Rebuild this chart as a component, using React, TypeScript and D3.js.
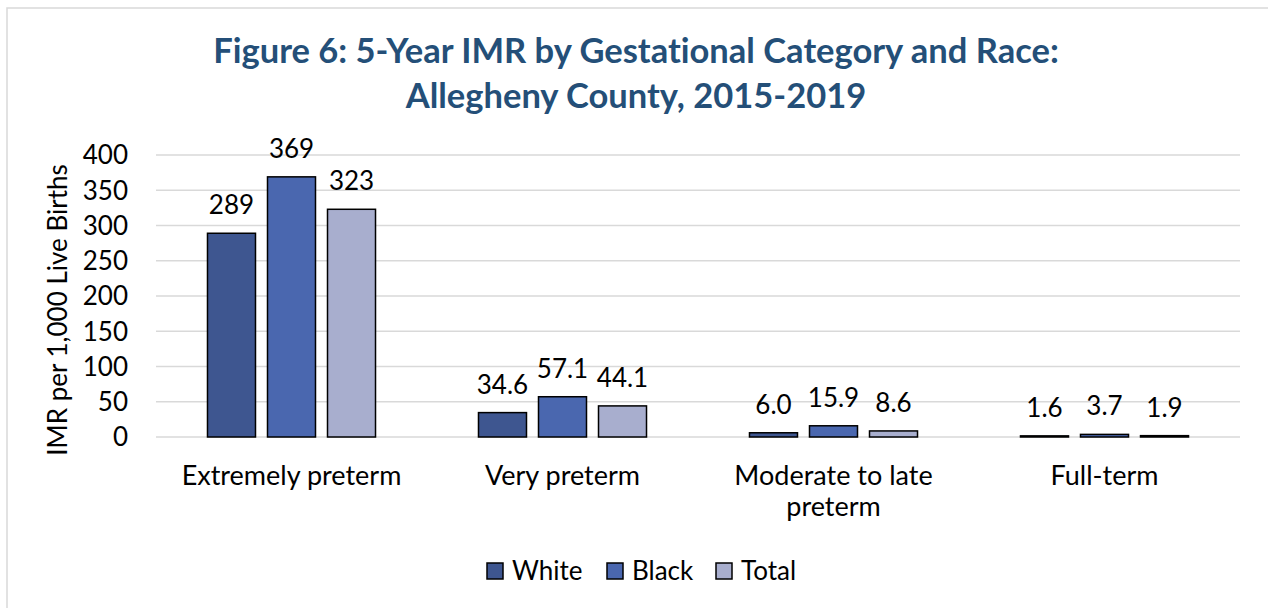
import React from "react";
import * as d3 from "d3";

const categories = ["Extremely preterm", "Very preterm", "Moderate to late preterm", "Full-term"];
const categoryLines = [["Extremely preterm"], ["Very preterm"], ["Moderate to late", "preterm"], ["Full-term"]];
const seriesNames = ["White", "Black", "Total"];
const whiteValues = [289, 34.6, 6.0, 1.6];
const blackValues = [369, 57.1, 15.9, 3.7];
const totalValues = [323, 44.1, 8.6, 1.9];
const whiteLabels = ["289", "34.6", "6.0", "1.6"];
const blackLabels = ["369", "57.1", "15.9", "3.7"];
const totalLabels = ["323", "44.1", "8.6", "1.9"];
const yTicks = [0, 50, 100, 150, 200, 250, 300, 350, 400];
const colors = ["#3E5690", "#4A67AF", "#A8AECE"];

const W = 1268;
const H = 608;
const FONT = "Lato, 'Open Sans', sans-serif";
const FS = 26;

export default function App() {
  const left = 156, right = 1240, top = 155, bottom = 437;
  const x0 = d3.scaleBand<string>().domain(categories).range([left, right]).paddingInner(0).paddingOuter(0);
  const x1 = d3.scaleBand<string>().domain(seriesNames).range([0, x0.bandwidth()]).paddingInner(0.2).paddingOuter(0.858);
  const y = d3.scaleLinear().domain([0, 400]).range([bottom, top]);
  const values = [whiteValues, blackValues, totalValues];
  const labels = [whiteLabels, blackLabels, totalLabels];

  const legendX = [487, 607, 716];

  return (
    <svg
      width={W}
      height={H}
      style={{ position: "absolute", left: 0, top: 0, background: "#fff", fontVariantLigatures: "none" }}
    >
      <rect x={7} y={8} width={W + 10} height={H + 10} fill="#fff" stroke="#d9d9d9" strokeWidth={1.5} />
      <g fontFamily={FONT} fontWeight={700} fill="#244F78" fontSize={34.5} textAnchor="middle">
        <text x={636} y={63}>Figure 6: 5-Year IMR by Gestational Category and Race:</text>
        <text x={636} y={108}>Allegheny County, 2015-2019</text>
      </g>
      {yTicks.map((t) => (
        <g key={t}>
          <line x1={left} x2={right} y1={y(t)} y2={y(t)} stroke="#d9d9d9" strokeWidth={1.5} />
          <text x={128} y={y(t)} dy="0.36em" textAnchor="end" fontFamily={FONT} fontSize={FS} fill="#000">
            {t}
          </text>
        </g>
      ))}
      <text
        transform={`translate(67,${(top + bottom) / 2 + 14}) rotate(-90)`}
        textAnchor="middle"
        fontFamily={FONT}
        fontSize={FS}
        fill="#000"
      >
        IMR per 1,000 Live Births
      </text>
      {categories.map((c, ci) => (
        <g key={c} transform={`translate(${x0(c)},0)`}>
          {seriesNames.map((s, si) => {
            const v = values[si][ci];
            const bx = x1(s)!;
            return (
              <g key={s}>
                <rect
                  x={bx}
                  y={y(v)}
                  width={x1.bandwidth()}
                  height={y(0) - y(v)}
                  fill={colors[si]}
                  stroke="#000"
                  strokeWidth={1.5}
                />
                <text
                  x={bx + x1.bandwidth() / 2}
                  y={y(v) - 19}
                  textAnchor="middle"
                  fontFamily={FONT}
                  fontSize={FS}
                  fill="#000"
                >
                  {labels[si][ci]}
                </text>
              </g>
            );
          })}
          {categoryLines[ci].map((line, li) => (
            <text
              key={li}
              x={x0.bandwidth() / 2}
              y={485 + li * 31}
              textAnchor="middle"
              fontFamily={FONT}
              fontSize={27}
              fill="#000"
            >
              {line}
            </text>
          ))}
        </g>
      ))}
      {seriesNames.map((s, si) => (
        <g key={s}>
          <rect x={legendX[si]} y={563} width={16} height={16} fill={colors[si]} stroke="#000" strokeWidth={1.5} />
          <text x={legendX[si] + 25} y={580} fontFamily={FONT} fontSize={FS} fill="#000">
            {s}
          </text>
        </g>
      ))}
    </svg>
  );
}
